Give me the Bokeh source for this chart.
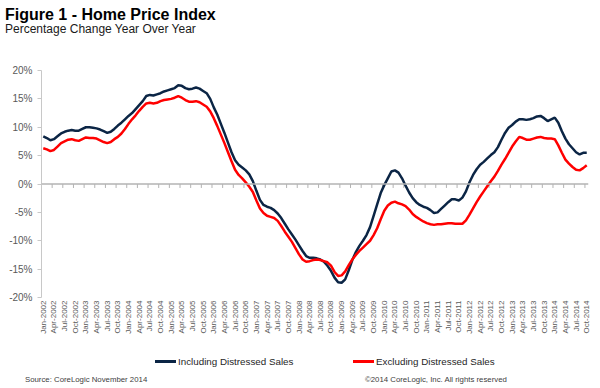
from math import pi
from bokeh.plotting import figure
from bokeh.layouts import column
from bokeh.models import (ColumnDataSource, Range1d, FixedTicker, Span, Div,
                          PrintfTickFormatter)
from bokeh.embed import file_html
from bokeh.resources import INLINE

title_text = "Figure 1 - Home Price Index"
subtitle_text = "Percentage Change Year Over Year"
source_text = "Source: CoreLogic November 2014"
copyright_text = "\u00a92014 CoreLogic, Inc. All rights reserved"
series_names = ["Including Distressed Sales", "Excluding Distressed Sales"]

month_abbr = ["Jan", "Feb", "Mar", "Apr", "May", "Jun",
              "Jul", "Aug", "Sep", "Oct", "Nov", "Dec"]
start_year = 2002

# Monthly YoY % change, Jan-2002 .. Oct-2014
including = [
    8.4, 8.1, 7.7, 7.9, 8.4, 8.9, 9.2, 9.4, 9.5, 9.4, 9.4, 9.7,
    10.0, 10.0, 9.9, 9.8, 9.6, 9.3, 9.0, 9.2, 9.7, 10.3, 10.8, 11.4,
    12.0, 12.5, 13.2, 13.9, 14.6, 15.5, 15.7, 15.6, 15.8, 16.0, 16.3, 16.5,
    16.7, 16.9, 17.4, 17.3, 16.9, 16.7, 16.8, 17.0, 16.8, 16.4, 16.0, 15.0,
    13.5, 12.2, 10.6, 9.0, 7.3, 5.6, 4.2, 3.4, 2.9, 2.4, 1.7, 0.5,
    -1.2, -2.8, -3.7, -4.0, -4.2, -4.6, -5.2, -6.0, -7.0, -8.0, -8.9, -9.8,
    -10.8, -11.8, -12.7, -13.0, -13.0, -13.1, -13.3, -13.7, -14.4, -15.3, -16.5, -17.3,
    -17.4, -16.8, -15.2, -13.4, -12.0, -10.9, -10.0, -9.0, -7.6, -5.6, -3.6, -1.6,
    -0.2, 1.0, 2.2, 2.4, 2.0, 1.0, -0.3, -1.5, -2.5, -3.2, -3.7, -4.0,
    -4.2, -4.6, -5.1, -5.0, -4.4, -3.8, -3.2, -2.7, -2.7, -2.9, -2.4, -1.3,
    0.3, 1.6, 2.6, 3.4, 3.9, 4.5, 5.1, 5.6, 6.5, 7.8, 9.0, 9.9,
    10.4, 11.0, 11.4, 11.4, 11.3, 11.4, 11.6, 11.9, 12.0, 11.6, 11.1, 11.4,
    11.7, 10.8, 9.3, 8.0, 7.0, 6.3, 5.6, 5.2, 5.5, 5.5,
]
excluding = [
    6.3, 6.1, 5.8, 6.0, 6.6, 7.2, 7.5, 7.8, 7.9, 7.7, 7.6, 7.9,
    8.2, 8.1, 8.1, 8.0, 7.7, 7.4, 7.2, 7.4, 7.9, 8.3, 8.9, 9.7,
    10.6, 11.4, 12.1, 12.9, 13.6, 14.2, 14.3, 14.2, 14.3, 14.6, 14.8, 14.9,
    15.0, 15.2, 15.5, 15.2, 14.8, 14.5, 14.5, 14.6, 14.4, 14.0, 13.6, 12.8,
    11.6, 10.2, 8.7, 7.2, 5.6, 4.0, 2.5, 1.6, 1.0, 0.3, -0.5, -1.4,
    -2.9, -4.3, -5.1, -5.6, -5.8, -6.0, -6.5, -7.4, -8.4, -9.3, -10.2, -11.3,
    -12.4, -13.3, -13.7, -13.6, -13.4, -13.3, -13.4, -13.6, -13.8, -14.4, -15.5, -16.2,
    -16.1, -15.4, -14.3, -13.3, -12.5, -11.8, -11.2, -10.6, -10.0, -9.0, -7.8, -6.2,
    -4.7, -3.8, -3.3, -3.1, -3.4, -3.6, -3.9, -4.5, -5.3, -5.8, -6.2, -6.6,
    -6.9, -7.1, -7.2, -7.1, -7.1, -7.0, -6.9, -6.9, -7.0, -7.0, -7.0, -6.4,
    -5.4, -4.3, -3.2, -2.2, -1.3, -0.4, 0.5, 1.3, 2.3, 3.4, 4.4, 5.5,
    6.6, 7.5, 8.3, 8.1, 7.8, 7.8, 8.0, 8.2, 8.3, 8.1, 8.0, 8.0,
    7.9, 6.8, 5.5, 4.3, 3.6, 3.0, 2.5, 2.4, 2.8, 3.3,
]

months = [f"{month_abbr[i % 12]}-{start_year + i // 12}" for i in range(len(including))]
tick_idx = list(range(0, len(months), 3))
tick_labels = {i: months[i] for i in tick_idx}
y_ticks = [-20, -15, -10, -5, 0, 5, 10, 15, 20]

FONT = "Liberation Sans"
DARK = "#0b2545"
RED = "#ff0000"
AXIS_GREY = "#b3b3b3"
TEXT_GREY = "#595959"

n = len(months)
src = ColumnDataSource(dict(x=list(range(n)), inc=including, exc=excluding))
# tick marks sit on the category boundaries (half a month before each labelled month)
tick_src = ColumnDataSource(dict(x=[t - 0.5 for t in tick_idx],
                                 y0=[0] * len(tick_idx), y1=[-0.7] * len(tick_idx)))

p = figure(width=600, height=314, output_backend="svg", toolbar_location=None,
           x_range=Range1d(-0.5, n - 0.5), y_range=Range1d(-20, 20),
           x_axis_location="below", y_axis_location="left", title=None,
           min_border_left=41, min_border_right=12, min_border_top=30, min_border_bottom=57)
p.outline_line_color = None
p.xgrid.visible = False
p.ygrid.visible = False
p.background_fill_color = "white"
p.border_fill_color = "white"

# zero line with quarterly tick marks
p.add_layout(Span(location=0, dimension="width", line_color=AXIS_GREY, line_width=1.5))
p.segment(x0="x", y0="y0", x1="x", y1="y1", source=tick_src, line_color=AXIS_GREY, line_width=1)

r_inc = p.line("x", "inc", source=src, line_color=DARK, line_width=2.5)
r_exc = p.line("x", "exc", source=src, line_color=RED, line_width=2.5)

ya = p.yaxis[0]
ya.ticker = FixedTicker(ticks=y_ticks)
ya.formatter = PrintfTickFormatter(format="%d%%")
ya.axis_line_color = "#c8c8c8"
ya.major_tick_line_color = "#c8c8c8"
ya.major_tick_out = 4
ya.major_tick_in = 0
ya.minor_tick_line_color = None
ya.major_label_standoff = 5
ya.major_label_text_font = FONT
ya.major_label_text_font_size = "10px"
ya.major_label_text_color = TEXT_GREY

xa = p.xaxis[0]
xa.ticker = FixedTicker(ticks=tick_idx)
xa.major_label_overrides = tick_labels
xa.major_label_orientation = pi / 2
xa.axis_line_color = None
xa.major_tick_line_color = None
xa.major_tick_out = 0
xa.major_tick_in = 0
xa.minor_tick_line_color = None
xa.major_label_text_font = FONT
xa.major_label_text_font_size = "8px"
xa.major_label_text_color = TEXT_GREY
xa.major_label_standoff = 3

title_div = Div(
    text=(f'<div style="font-family:\'{FONT}\';font-weight:bold;font-size:16px;'
          f'line-height:15px;margin:7px 0 0 5px;color:#000;white-space:nowrap">{title_text}</div>'
          f'<div style="font-family:\'{FONT}\';font-size:12px;line-height:14px;'
          f'margin-left:5px;color:#1a1a1a;white-space:nowrap">{subtitle_text}</div>'),
    width=600, height=40, margin=0)

legend_items = [(series_names[0], DARK, 155), (series_names[1], RED, 353)]
legend_html = "".join(
    f'<span style="position:absolute;left:{x}px;top:6px;width:21px;height:0;'
    f'border-top:3px solid {c}"></span>'
    f'<span style="position:absolute;left:{x + 23}px;top:2px;font-size:9.8px;'
    f'line-height:12px;color:#262626">{name}</span>'
    for name, c, x in legend_items)

footer_div = Div(
    text=(f'<div style="position:relative;width:600px;height:34px;font-family:\'{FONT}\';'
          f'white-space:nowrap">{legend_html}'
          f'<span style="position:absolute;left:25px;top:21px;font-size:7.8px;line-height:10px;'
          f'color:#404040">{source_text}</span>'
          f'<span style="position:absolute;left:365px;top:21px;font-size:7.8px;line-height:10px;'
          f'color:#404040">{copyright_text}</span></div>'),
    width=600, height=34, margin=0)

layout = column(title_div, p, footer_div, spacing=0)

open("out.html", "w").write(file_html(layout, INLINE))
